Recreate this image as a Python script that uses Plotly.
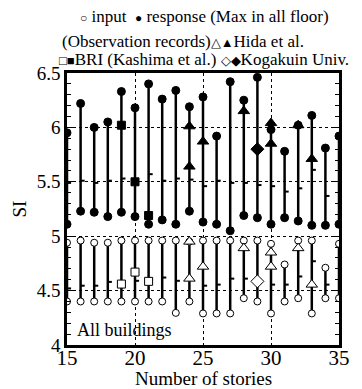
import plotly.graph_objects as go

stories = list(range(15, 36))
resp_max = [5.95, 6.22, 6.00, 6.05, 6.33, 6.18, 6.40, 6.26, 6.34, 6.19, 6.28,
            5.92, 6.42, 6.25, 6.46, 5.98, 5.78, 6.02, 6.11, 5.81, 5.92]
resp_min = [5.11, 5.23, 5.22, 5.18, 5.22, 5.18, 5.11, 5.15, 5.11, 5.23, 5.13,
            5.11, 5.05, 5.19, 5.17, 5.11, 5.17, 5.14, 5.10, 5.10, 5.11]
resp_mean = [5.49, 5.51, 5.49, 5.51, 5.53, 5.50, 5.57, 5.51, 5.53, 5.52, 5.46,
             5.51, 5.49, 5.49, 5.47, 5.46, 5.41, 5.44, 5.61, 5.37, 5.45]
inp_max = [4.94, 4.96, 4.94, 4.94, 4.96, 4.96, 4.96, 4.96, 4.96, 4.95, 4.96,
           4.96, 4.96, 4.96, 4.96, 4.93, 4.74, 4.96, 4.96, 4.71, 4.93]
inp_min = [4.40, 4.40, 4.40, 4.40, 4.40, 4.40, 4.40, 4.40, 4.295, 4.40, 4.29,
           4.29, 4.29, 4.43, 4.40, 4.29, 4.40, 4.43, 4.29, 4.43, 4.43]
inp_mean = [4.52, 4.545, 4.545, 4.58, 4.58, 4.59, 4.61, 4.62, 4.59, 4.60, 4.545,
            4.555, 4.61, 4.61, 4.57, 4.555, 4.555, 4.63, 4.77, 4.555, 4.50]

hida_x = [24, 24, 25, 28, 30, 30, 32, 33]
hida_resp = [6.01, 5.64, 5.87, 6.15, 6.04, 5.85, 6.02, 5.71]
hida_inp = [4.95, 4.61, 4.72, 4.89, 4.85, 4.72, 4.89, 4.555]
bri_x = [19, 20, 21]
bri_resp = [6.02, 5.50, 5.19]
bri_inp = [4.56, 4.67, 4.585]
kog_x = [29]
kog_resp = [5.80]
kog_inp = [4.585]

DASH_LEN = 0.3
FONT = "Liberation Serif"


def seg_xy(xs, y0s, y1s):
    X, Y = [], []
    for x, a, b in zip(xs, y0s, y1s):
        X += [x, x, None]
        Y += [a, b, None]
    return X, Y


def dash_xy(xs, ys):
    X, Y = [], []
    for x, y in zip(xs, ys):
        X += [x, x + DASH_LEN, None]
        Y += [y, y, None]
    return X, Y


fig = go.Figure()
line_style = dict(color="black", width=2.5)
for lo, hi in [(inp_min, inp_max), (resp_min, resp_max)]:
    X, Y = seg_xy(stories, lo, hi)
    fig.add_trace(go.Scatter(x=X, y=Y, mode="lines", line=line_style,
                             hoverinfo="skip", showlegend=False))
for m in [inp_mean, resp_mean]:
    X, Y = dash_xy(stories, m)
    fig.add_trace(go.Scatter(x=X, y=Y, mode="lines",
                             line=dict(color="black", width=2),
                             hoverinfo="skip", showlegend=False))

open_m = dict(color="white", line=dict(color="black", width=1))
fill_m = dict(color="black", line=dict(color="black", width=1))

for ys in [inp_min, inp_max]:
    fig.add_trace(go.Scatter(x=stories, y=ys, mode="markers",
                             marker=dict(symbol="circle", size=7, **open_m),
                             showlegend=False))
for ys in [resp_min, resp_max]:
    fig.add_trace(go.Scatter(x=stories, y=ys, mode="markers",
                             marker=dict(symbol="circle", size=8, **fill_m),
                             showlegend=False))

for xs, r, i, sym, sz in [(hida_x, hida_resp, hida_inp, "triangle-up", 10),
                          (bri_x, bri_resp, bri_inp, "square", 8),
                          (kog_x, kog_resp, kog_inp, "diamond", 10)]:
    fig.add_trace(go.Scatter(x=xs, y=r, mode="markers",
                             marker=dict(symbol=sym, size=sz, **fill_m),
                             showlegend=False))
    fig.add_trace(go.Scatter(x=xs, y=i, mode="markers",
                             marker=dict(symbol=sym, size=sz, **open_m),
                             showlegend=False))

W, H = 362, 389
L, R, T, B = 67, 23, 73, 44
pw, ph = W - L - R, H - T - B


def px(xp):
    return (xp - L) / pw


def py(yp):
    return (H - B - yp) / ph


def sm(s, size=12):
    return '<span style="font-size:%dpx">%s</span>' % (size, s)


legend_lines = [
    (204, 16.7, sm("○", 12) + " input  " + sm("●", 12) + " response (Max in all floor)"),
    (183, 41.7, "(Observation records)" + sm("△▲", 13) + "Hida et al."),
    (204, 60, sm("□■", 13) + "BRI (Kashima et al.) " + sm("◇◆", 13) + "Kogakuin Univ."),
]
for xc, yc, txt in legend_lines:
    fig.add_annotation(x=px(xc), y=py(yc), xref="paper", yref="paper",
                       text=txt, showarrow=False, xanchor="center",
                       yanchor="middle", font=dict(family=FONT, size=17, color="black"))

fig.add_annotation(x=px(75), y=py(330), xref="paper", yref="paper",
                   text="All buildings", showarrow=False, xanchor="left",
                   yanchor="middle", font=dict(family=FONT, size=18, color="black"))

fig.add_annotation(x=0.5, y=py(378), xref="paper", yref="paper",
                   text="Number of stories", showarrow=False, xanchor="center",
                   yanchor="middle", font=dict(family=FONT, size=19, color="black"))

fig.update_layout(
    width=W, height=H,
    margin=dict(l=L, r=R, t=T, b=B, pad=0),
    paper_bgcolor="white", plot_bgcolor="white",
    font=dict(family=FONT, color="black"),
    showlegend=False,
)
fig.update_xaxes(
    range=[15, 35], tickvals=[15, 20, 25, 30, 35], ticks="",
    showline=True, linecolor="black", linewidth=2.5, mirror=True,
    showgrid=True, gridcolor="black", gridwidth=1, griddash="dot",
    zeroline=False, tickfont=dict(family=FONT, size=21),
    ticklabelstandoff=-8,
)
fig.update_yaxes(
    range=[4, 6.5], tickvals=[4, 4.5, 5, 5.5, 6, 6.5],
    ticktext=["4", "4.5", "5", "5.5", "6", "6.5"],
    ticks="inside", ticklen=6, tickwidth=1, tickcolor="black",
    minor=dict(dtick=0.1, ticks="inside", ticklen=4, tickcolor="black", showgrid=False),
    showline=True, linecolor="black", linewidth=2.5, mirror="allticks",
    showgrid=True, gridcolor="black", gridwidth=1, griddash="dot",
    zeroline=False, tickfont=dict(family=FONT, size=19),
    title=dict(text="SI", font=dict(family=FONT, size=19), standoff=6),
)

fig.write_html("out.html", config={"displayModeBar": False},
               post_script="document.body.style.margin='0px';document.body.style.padding='0px';")
